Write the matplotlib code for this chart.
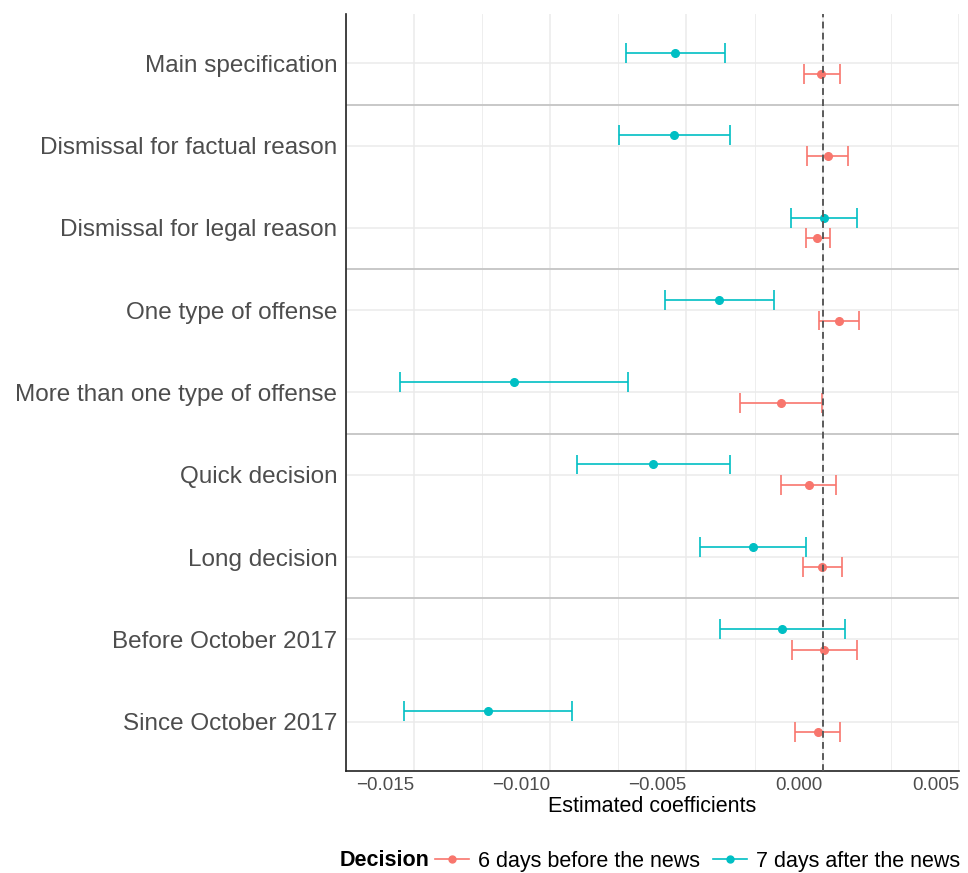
import matplotlib
matplotlib.use("Agg")
import matplotlib.pyplot as plt
from matplotlib.lines import Line2D
import numpy as np

plt.rcParams['font.family'] = ['Liberation Sans', 'DejaVu Sans']

labels = ["Main specification", "Dismissal for factual reason", "Dismissal for legal reason",
          "One type of offense", "More than one type of offense", "Quick decision",
          "Long decision", "Before October 2017", "Since October 2017"]

before_est = [-0.00006, 0.00018, -0.00021, 0.00059, -0.00153, -0.00052, -0.00002, 0.00005, -0.00019]
before_lo = [-0.00070, -0.00058, -0.00063, -0.00013, -0.00302, -0.00154, -0.00073, -0.00113, -0.00103]
before_hi = [0.00062, 0.00093, 0.00025, 0.00132, -0.00002, 0.00049, 0.00069, 0.00124, 0.00063]

after_est = [-0.00542, -0.00545, 0.00005, -0.00379, -0.01131, -0.00623, -0.00255, -0.00149, -0.01228]
after_lo = [-0.00722, -0.00749, -0.00116, -0.00577, -0.01550, -0.00902, -0.00451, -0.00376, -0.01537]
after_hi = [-0.00360, -0.00339, 0.00127, -0.00178, -0.00715, -0.00342, -0.00060, 0.00081, -0.00918]

series_names = ["6 days before the news", "7 days after the news"]
colors = ["#F8766D", "#00BFC4"]
group_breaks = [8.5, 6.5, 4.5, 2.5]
xticks = [-0.015, -0.010, -0.005, 0.000, 0.005]
xtick_labels = ["\u22120.015", "\u22120.010", "\u22120.005", "0.000", "0.005"]

fig = plt.figure(figsize=(9.68, 8.73), dpi=100)
ax = fig.add_axes([345.7/968, 1-771/873, (959.3-345.7)/968, (771-14)/873])

n = len(labels)
ypos = np.arange(n, 0, -1).astype(float)
dodge = 0.125
cap = 0.12

for i, (est, lo, hi) in enumerate([(before_est, before_lo, before_hi), (after_est, after_lo, after_hi)]):
    off = -dodge if i == 0 else dodge
    yy = ypos + off
    c = colors[i]
    ax.hlines(yy, lo, hi, color=c, lw=1.2, zorder=4)
    ax.vlines(lo, yy - cap, yy + cap, color=c, lw=1.2, zorder=4)
    ax.vlines(hi, yy - cap, yy + cap, color=c, lw=1.2, zorder=4)
    ax.plot(est, yy, 'o', color=c, ms=5.5, zorder=5)

ax.axvline(0, color="#5A5A5A", lw=1.4, dashes=(3.5, 2.2), zorder=6)
for b in group_breaks:
    ax.axhline(b, color="#C4C4C4", lw=1.3, zorder=2)

ax.set_xlim(-0.01701, 0.00501)
ax.set_ylim(0.4, 9.6)
ax.set_yticks(ypos)
ax.set_yticklabels(labels, fontsize=17.5, color="#4D4D4D")
ax.set_xticks(xticks)
ax.set_xticklabels(xtick_labels, fontsize=13.5, color="#4D4D4D", ha='right')
ax.set_xticks(np.arange(-0.0175, 0.0051, 0.0025), minor=True)
ax.tick_params(axis='both', which='both', length=0)
ax.tick_params(axis='y', pad=6)
ax.tick_params(axis='x', pad=4.5)
ax.grid(True, which='major', color="#EBEBEB", lw=1.1, zorder=0)
ax.grid(True, which='minor', axis='x', color="#EBEBEB", lw=0.6, zorder=0)
ax.set_axisbelow(True)
for s in ['top', 'right']:
    ax.spines[s].set_visible(False)
for s in ['left', 'bottom']:
    ax.spines[s].set_color("#222222")
    ax.spines[s].set_linewidth(1.2)
ax.set_xlabel("Estimated coefficients", fontsize=15.5, color="black", labelpad=1)

fig.text(340/968, 1-861/873, "Decision", fontsize=15.5, fontweight='bold', va='center', ha='left')
handles = [Line2D([0], [0], color=colors[i], lw=1.2, marker='o', ms=5) for i in range(2)]
fig.legend(handles, series_names, loc='center left', bbox_to_anchor=(435/968, 1-861/873),
           ncol=2, frameon=False, fontsize=15.5, handlelength=1.6, handletextpad=0.4,
           columnspacing=0.6, borderaxespad=0, borderpad=0)

fig.savefig("out.png", dpi=100)
